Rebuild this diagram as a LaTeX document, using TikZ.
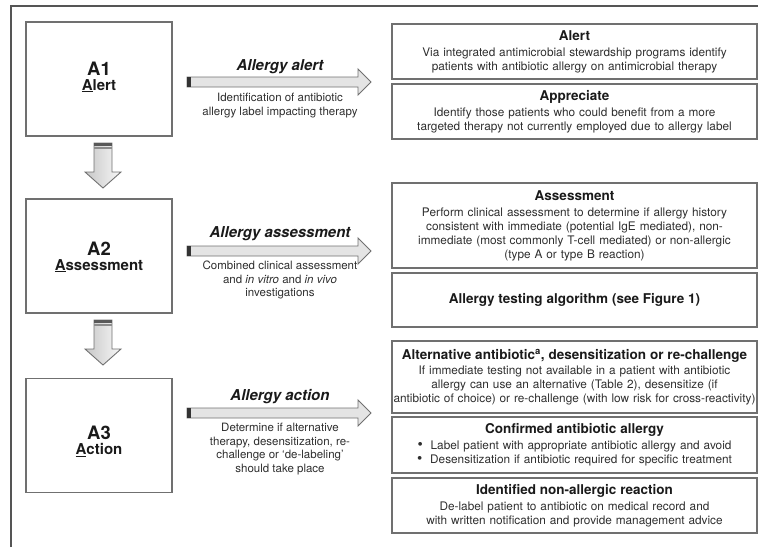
\documentclass[tikz,border=0pt]{standalone}
\usepackage{fontspec}
\setmainfont{TeX Gyre Heros}
\usetikzlibrary{calc}
\definecolor{boxline}{HTML}{707070}
\definecolor{frameline}{HTML}{555555}
\definecolor{headtext}{HTML}{1A1A1A}
\definecolor{bodytext}{HTML}{2E2E2E}
\definecolor{arrowfill}{HTML}{E4E4E4}
\definecolor{capdark}{HTML}{333333}
\newcommand\hdfont{\fontsize{13.5}{16}\selectfont\bfseries\color{headtext}}
\newcommand\bdfont{\fontsize{11.8}{14}\selectfont\color{bodytext}}
\newcommand\dsfont{\fontsize{11.5}{13.5}\selectfont\color{bodytext}}
\newcommand\hblockarrow[2]{%
  \path[fill=arrowfill, draw=boxline, line width=0.9pt]
    ($(#1)+(0,-5)$) -- ($(#2)+(-13,-5)$) -- ($(#2)+(-13,-13)$) -- (#2)
    -- ($(#2)+(-13,13)$) -- ($(#2)+(-13,5)$) -- ($(#1)+(0,5)$) -- cycle;
  \fill[capdark] ($(#1)+(0,-5)$) rectangle ($(#1)+(4,5)$);
}
\newcommand\vblockarrow[2]{%
  \path[left color=black!22, right color=black!3, draw=boxline, line width=0.9pt]
    ($(#1)+(-9,0)$) -- ($(#1)+(9,0)$) -- ($(#2)+(9,-16)$) -- ($(#2)+(18,-16)$)
    -- (#2) -- ($(#2)+(-18,-16)$) -- ($(#2)+(-9,-16)$) -- cycle;
  \fill[black!65] ($(#1)+(-9,0)$) rectangle ($(#1)+(9,3)$);
  \fill[black!45] ($(#1)+(-9,4)$) rectangle ($(#1)+(9,6)$);
}
\newcommand\blt{{\fontsize{15}{14}\selectfont\textbullet}\ \ }
\begin{document}
\begin{tikzpicture}[x=1pt, y=-1pt,
  lbox/.style={draw=boxline, line width=1.1pt, minimum width=146pt, minimum height=114pt, inner sep=0pt},
  rbox/.style={draw=boxline, line width=1.1pt, minimum width=365pt, text width=361pt, inner xsep=2pt, inner ysep=0pt, align=center, font=\bdfont},
  alabel/.style={font=\fontsize{15}{18}\selectfont\bfseries\itshape\color{headtext}},
  adesc/.style={font=\dsfont, align=center, anchor=north, inner sep=0pt},
  blabel/.style={align=center, inner sep=0pt, color=headtext}]
\useasboundingbox (0,0) rectangle (758,547);
% frame
\coordinate (fbl) at (11,547);
\coordinate (ftl) at (11,6);
\coordinate (ftr) at (758,6);
\draw[frameline, line width=1.6pt] (fbl) -- (ftl) -- (ftr);
% left boxes
\node[lbox] (a1) at (99,79) {};
\node[lbox] (a2) at (99,256) {};
\node[lbox] (a3) at (99,435.5) {};
\node[blabel] (a1t) at ($(a1.center)+(0,-2)$) {{\fontsize{18.5}{20}\selectfont\bfseries A1}\\[3pt]{\fontsize{15}{17}\selectfont\bfseries\underline{A}lert}};
\node[blabel] (a2t) at ($(a2.center)+(0,1)$) {{\fontsize{18.5}{20}\selectfont\bfseries A2}\\[3pt]{\fontsize{15}{17}\selectfont\bfseries\underline{A}ssessment}};
\node[blabel] (a3t) at ($(a3.center)+(0,6)$) {{\fontsize{18.5}{20}\selectfont\bfseries A3}\\[3pt]{\fontsize{15}{17}\selectfont\bfseries\underline{A}ction}};
% down arrows
\coordinate (d1s) at (103,143);
\coordinate (d1e) at (103,188);
\coordinate (d2s) at (103,320);
\coordinate (d2e) at (103,365);
\vblockarrow{d1s}{d1e}
\vblockarrow{d2s}{d2e}
% horizontal arrows
\coordinate (h1s) at (187,82);
\coordinate (h1e) at (371,82);
\coordinate (h2s) at (187,251);
\coordinate (h2e) at (371,251);
\coordinate (h3s) at (187,413);
\coordinate (h3e) at (371,413);
\hblockarrow{h1s}{h1e}
\hblockarrow{h2s}{h2e}
\hblockarrow{h3s}{h3e}
\node[alabel] (l1) at (280,67) {Allergy alert};
\node[alabel] (l2) at (280,234) {Allergy assessment};
\node[alabel] (l3) at (280,397) {Allergy action};
\node[adesc] (t1) at (280,93) {Identification of antibiotic\\allergy label impacting therapy};
\node[adesc] (t2) at (280,261) {Combined clinical assessment\\and \textit{in vitro} and \textit{in vivo}\\investigations};
\node[adesc] (t3) at (280,423) {Determine if alternative\\therapy, desensitization, re-\\challenge or ‘de-labeling’\\should take place};
% right boxes
\node[rbox, minimum height=55pt] (ralert) at (574.5,51.5) {{\hdfont Alert}\\[2pt]Via integrated antimicrobial stewardship programs identify\\patients with antibiotic allergy on antimicrobial therapy};
\node[rbox, minimum height=55pt] (rappr) at (574.5,111.5) {{\hdfont Appreciate}\\[2pt]Identify those patients who could benefit from a more\\targeted therapy not currently employed due to allergy label};
\node[rbox, minimum height=85pt] (rassess) at (574.5,225.5) {{\hdfont Assessment}\\[2pt]Perform clinical assessment to determine if allergy history\\consistent with immediate (potential IgE mediated), non-\\immediate (most commonly T-cell mediated) or non-allergic\\(type A or type B reaction)};
\node[rbox, minimum height=54pt] (rtest) at (574.5,300) {{\hdfont Allergy testing algorithm (see Figure 1)}};
\node[rbox, minimum height=72pt] (ralt) at (574.5,377) {{\hdfont Alternative antibiotic\textsuperscript{a}, desensitization or re-challenge}\\[1pt]If immediate testing not available in a patient with antibiotic\\allergy can use an alternative (Table 2), desensitize (if\\\makebox[\linewidth][c]{antibiotic of choice) or re-challenge (with low risk for cross-reactivity)}};
\node[rbox, minimum height=56pt] (rconf) at (574.5,445) {{\hdfont Confirmed antibiotic allergy}\\[2pt]\blt Label patient with appropriate antibiotic allergy and avoid\\\blt Desensitization if antibiotic required for specific treatment};
\node[rbox, minimum height=55pt] (rnon) at (574.5,505.5) {{\hdfont Identified non-allergic reaction}\\[2pt]De-label patient to antibiotic on medical record and\\with written notification and provide management advice};
\end{tikzpicture}
\end{document}
